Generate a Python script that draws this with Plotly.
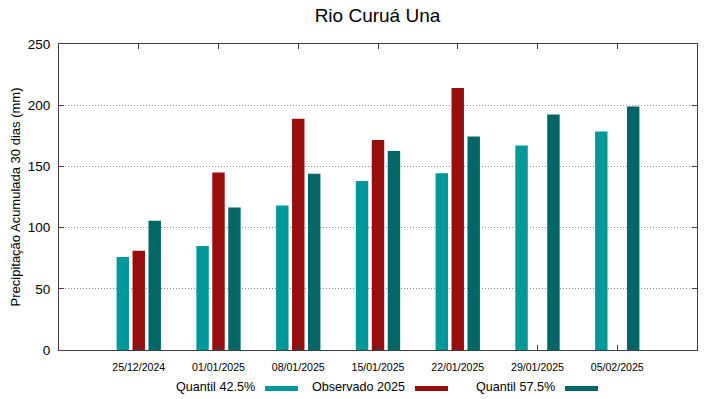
import plotly.graph_objects as go

categories = ["25/12/2024", "01/01/2025", "08/01/2025", "15/01/2025",
              "22/01/2025", "29/01/2025", "05/02/2025"]
quantil_425 = [76, 85, 118, 138, 144.5, 167, 178.5]
observado_2025 = [81, 145, 189, 171.5, 214, None, None]
quantil_575 = [105.5, 116.5, 144, 162.5, 174.5, 192.5, 199]
y_ticks = [0, 50, 100, 150, 200, 250]

series_names = ["Quantil 42.5%", "Observado 2025", "Quantil 57.5%"]
series_colors = ["#009999", "#990d0d", "#006666"]
series_values = [quantil_425, observado_2025, quantil_575]

FONT = "Liberation Sans, Arial, sans-serif"

fig = go.Figure()
for name, vals, col in zip(series_names, series_values, series_colors):
    fig.add_trace(go.Bar(x=categories, y=vals, name=name,
                         marker=dict(color=col, line=dict(width=0)),
                         showlegend=False, hoverinfo="skip"))

fig.update_layout(
    width=719, height=399,
    margin=dict(l=59, r=22, t=44, b=49, autoexpand=False),
    paper_bgcolor="white", plot_bgcolor="white",
    barmode="group", bargap=0.4, bargroupgap=0.22,
    font=dict(family=FONT, color="#000000"),
    title=dict(text="Rio Curuá Una", x=0.525, xanchor="center",
               y=0.962, yanchor="middle",
               font=dict(size=19, family=FONT, color="#000000")),
)

fig.update_xaxes(
    type="category", range=[-1, 7], automargin=False,
    showline=True, linecolor="#404040", linewidth=1, mirror="ticks",
    ticks="inside", ticklen=5, tickcolor="#404040",
    showgrid=False, tickfont=dict(size=10.6, family=FONT, color="#000000"),
    ticklabelstandoff=7,
    zeroline=False,
)
fig.update_yaxes(
    range=[0, 250], tickvals=y_ticks, automargin=False,
    showline=True, linecolor="#404040", linewidth=1, mirror="ticks",
    ticks="inside", ticklen=5, tickcolor="#404040",
    showgrid=True, gridcolor="#8c8c8c", griddash="1px,2px", gridwidth=1,
    zeroline=False, ticklabelstandoff=5,
    tickfont=dict(size=13.5, family=FONT, color="#000000"),
    title=dict(text="Precipitação Acumulada 30 dias (mm)",
               font=dict(size=13, family=FONT, color="#000000"), standoff=4),
)

# gnuplot-style legend: text followed by colour sample
plot_l, plot_w, plot_b, plot_h = 59, 638, 350, 306
legend_text_right = [257, 407, 557]
legend_y = 387
for name, col, tr in zip(series_names, series_colors, legend_text_right):
    fig.add_annotation(
        x=(tr - plot_l) / plot_w, y=(plot_b - legend_y) / plot_h,
        xref="paper", yref="paper", xanchor="right", yanchor="middle",
        text=name, showarrow=False,
        font=dict(size=12.6, family=FONT, color="#000000"),
    )
    x0 = tr + 8
    fig.add_shape(
        type="rect", xref="paper", yref="paper",
        x0=(x0 - plot_l) / plot_w, x1=(x0 + 33 - plot_l) / plot_w,
        y0=(plot_b - (legend_y + 4)) / plot_h, y1=(plot_b - (legend_y - 1)) / plot_h,
        fillcolor=col, line=dict(width=0),
    )

fig.write_html("out.html", config={"displayModeBar": False},
               post_script="document.body.style.margin='0';")
